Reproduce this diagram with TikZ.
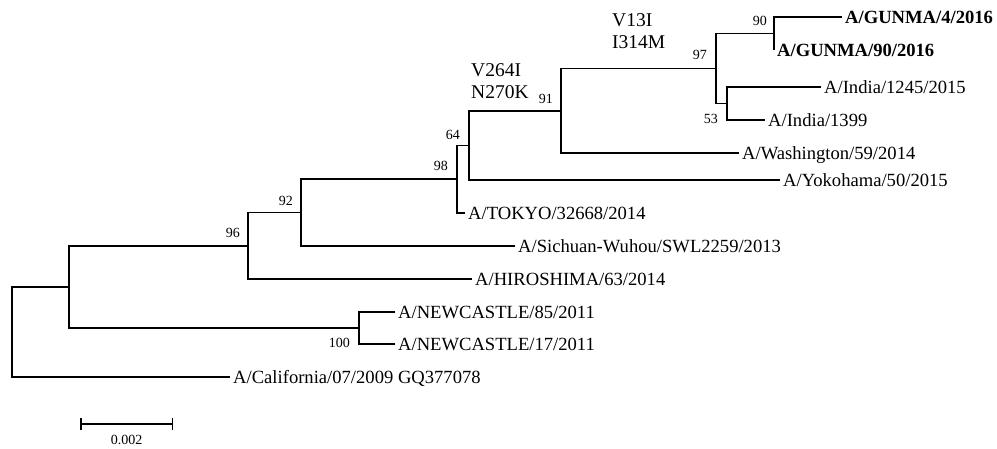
\documentclass[tikz,border=0pt]{standalone}
\usepackage{fontspec}
\setmainfont{Liberation Serif}
\usetikzlibrary{arrows.meta}

\tikzset{
  branch/.style={line width=1.5pt},
  leaf/.style={anchor=west, inner sep=3pt, text height=13pt, text depth=0pt, font=\fontsize{18.6}{20}\selectfont},
  leafb/.style={leaf, font=\fontsize{18.6}{20}\selectfont\bfseries},
  boot/.style={anchor=base east, inner sep=0pt, font=\fontsize{14}{16}\selectfont},
  mut/.style={anchor=north west, align=left, inner sep=0pt, font=\fontsize{19.5}{22.5}\selectfont},
}

\begin{document}
\begin{tikzpicture}[x=1pt, y=-1pt]
	\useasboundingbox[fill=white] (0,0) rectangle (997,448);
	% taxa
	\node[leafb] (gun4) at (842,17) {A/GUNMA/4/2016};
	\node[leafb] (gun90) at (774,50) {A/GUNMA/90/2016};
	\node[leaf] (ind1245) at (821,87) {A/India/1245/2015};
	\node[leaf] (ind1399) at (765,120) {A/India/1399};
	\node[leaf] (wash) at (739,153) {A/Washington/59/2014};
	\node[leaf] (yoko) at (780,180) {A/Yokohama/50/2015};
	\node[leaf] (tokyo) at (465,213) {A/TOKYO/32668/2014};
	\node[leaf] (sich) at (515,246) {A/Sichuan-Wuhou/SWL2259/2013};
	\node[leaf] (hiro) at (472,279) {A/HIROSHIMA/63/2014};
	\node[leaf] (nc85) at (395,312) {A/NEWCASTLE/85/2011};
	\node[leaf] (nc17) at (395,344) {A/NEWCASTLE/17/2011};
	\node[leaf] (cal) at (230,377) {A/California/07/2009 GQ377078};
	% inner nodes
	\coordinate (n90) at (774,33.5);
	\coordinate (n53) at (727,103.5);
	\coordinate (n97) at (716,68.5);
	\coordinate (n91) at (561,110.75);
	\coordinate (n64) at (469,145.4);
	\coordinate (n98) at (457,179.2);
	\coordinate (n92) at (301,212.6);
	\coordinate (n96) at (248,245.8);
	\coordinate (n100) at (359,328);
	\coordinate (nin) at (69,286.9);
	\coordinate (root) at (12,332);
	% branches
	\draw[branch] (gun4.west) -| (n90) |- (gun90.west);
	\draw[branch] (ind1245.west) -| (n53) |- (ind1399.west);
	\draw[branch] (n90) -| (n97) |- (n53);
	\draw[branch] (n97) -| (n91) |- (wash.west);
	\draw[branch] (n91) -| (n64) |- (yoko.west);
	\draw[branch] (n64) -| (n98) |- (tokyo.west);
	\draw[branch] (n98) -| (n92) |- (sich.west);
	\draw[branch] (n92) -| (n96) |- (hiro.west);
	\draw[branch] (nc85.west) -| (n100) |- (nc17.west);
	\draw[branch] (n96) -| (nin) |- (n100);
	\draw[branch] (nin) -| (root) |- (cal.west);
	% bootstrap values
	\node[boot] (b90) at (767,25) {90};
	\node[boot] (b97) at (707,59) {97};
	\node[boot] (b53) at (718,123) {53};
	\node[boot] (b91) at (553,103) {91};
	\node[boot] (b64) at (460,139) {64};
	\node[boot] (b98) at (448,170) {98};
	\node[boot] (b92) at (293,205) {92};
	\node[boot] (b96) at (240,237) {96};
	\node[boot] (b100) at (350,347) {100};
	% substitutions
	\node[mut] (m64) at (471,63) {V264I\\N270K};
	\node[mut] (m91) at (612,13) {V13I\\I314M};
	% scale
	\coordinate (sbl) at (80,424);
	\coordinate (sbr) at (173,424);
	\draw[line width=1.5pt, {Bar[width=12pt]}-{Bar[width=12pt]}] (sbl) -- (sbr);
	\node[anchor=base, inner sep=0pt, font=\fontsize{14}{16}\selectfont] (sblab) at (126.5,444) {0.002};
\end{tikzpicture}
\end{document}
